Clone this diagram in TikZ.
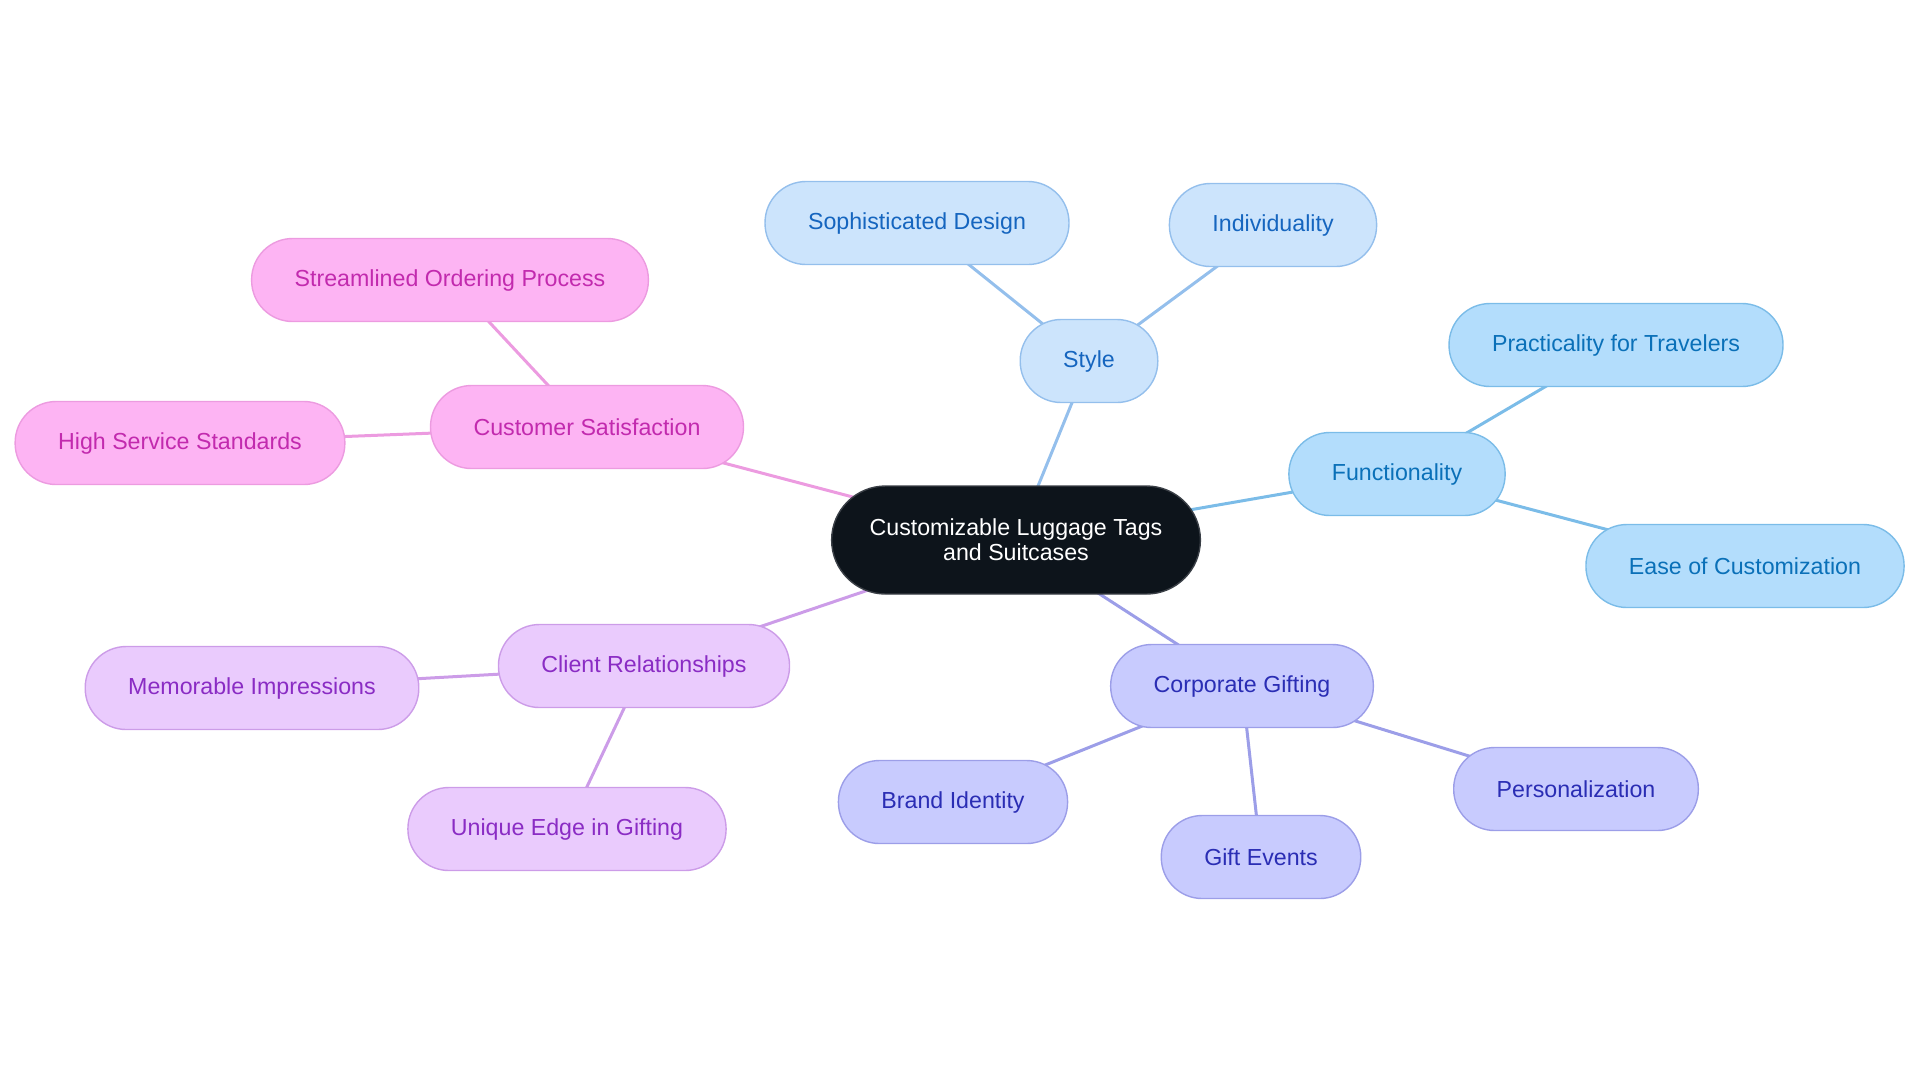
\documentclass[tikz,border=0pt]{standalone}
\usepackage{fontspec}
\setmainfont{Liberation Sans}
\usetikzlibrary{backgrounds}
\definecolor{RootFill}{HTML}{0D141B}
\definecolor{RootLine}{HTML}{3A3F46}
\definecolor{StyleFill}{HTML}{CCE4FC}
\definecolor{StyleLine}{HTML}{94BFEC}
\definecolor{StyleText}{HTML}{1565BF}
\definecolor{FuncFill}{HTML}{B3DDFC}
\definecolor{FuncLine}{HTML}{7BBCE8}
\definecolor{FuncText}{HTML}{0A70B8}
\definecolor{GiftFill}{HTML}{C8CBFE}
\definecolor{GiftLine}{HTML}{9C9EE8}
\definecolor{GiftText}{HTML}{2A2DB4}
\definecolor{ClientFill}{HTML}{EACBFD}
\definecolor{ClientLine}{HTML}{CC9CE8}
\definecolor{ClientText}{HTML}{8A2CC4}
\definecolor{SatisFill}{HTML}{FDB4F3}
\definecolor{SatisLine}{HTML}{EC9BE0}
\definecolor{SatisText}{HTML}{C22AAE}
\tikzset{
    % Node styles - pill shaped
    rootbox/.style={
        rectangle,
        rounded corners=27pt,
        draw=RootLine,
        fill=RootFill,
        line width=0.7pt,
        minimum height=54pt,
        inner xsep=19pt,
        align=center,
        text=white,
        font=\fontsize{11.6}{12.5}\selectfont
    },
    pill/.style={
        rectangle,
        rounded corners=20.5pt,
        line width=0.7pt,
        minimum height=41.5pt,
        inner xsep=21.5pt,
        font=\fontsize{11.6}{14}\selectfont
    },
    stylebox/.style={pill, draw=StyleLine, fill=StyleFill, text=StyleText},
    funcbox/.style={pill, draw=FuncLine, fill=FuncFill, text=FuncText},
    giftbox/.style={pill, draw=GiftLine, fill=GiftFill, text=GiftText},
    clientbox/.style={pill, draw=ClientLine, fill=ClientFill, text=ClientText},
    satisbox/.style={pill, draw=SatisLine, fill=SatisFill, text=SatisText},
    % Connector style
    link/.style={line width=1.5pt}
}
\begin{document}
\begin{tikzpicture}[x=0.5pt, y=-0.5pt]
                \useasboundingbox (0,0) rectangle (1920,1083);

                % Root
                \node[rootbox] (root) at (1016,540) {Customizable Luggage Tags\\and Suitcases};

                % Style branch
                \node[stylebox] (style) at (1089,361) {Style};
                \node[stylebox] (design) at (917,223) {Sophisticated Design};
                \node[stylebox] (indiv) at (1273,225) {Individuality};

                % Functionality branch
                \node[funcbox] (func) at (1397,474) {Functionality};
                \node[funcbox] (travel) at (1616,345) {Practicality for Travelers};
                \node[funcbox] (ease) at (1745,566) {Ease of Customization};

                % Corporate gifting branch
                \node[giftbox] (corp) at (1242,686) {Corporate Gifting};
                \node[giftbox] (brand) at (953,802) {Brand Identity};
                \node[giftbox] (events) at (1261,857) {Gift Events};
                \node[giftbox] (person) at (1576,789) {Personalization};

                % Client branch
                \node[clientbox] (client) at (644,666) {Client Relationships};
                \node[clientbox] (memo) at (252,688) {Memorable Impressions};
                \node[clientbox] (edge) at (567,829) {Unique Edge in Gifting};

                % Satisfaction branch
                \node[satisbox] (satis) at (587,427) {Customer Satisfaction};
                \node[satisbox] (order) at (450,280) {Streamlined Ordering Process};
                \node[satisbox] (service) at (180,443) {High Service Standards};

                % Connectors
                \begin{scope}[on background layer]
                    \draw[link, StyleLine] (root.center) -- (style.center);
                    \draw[link, StyleLine] (style.center) -- (design.center);
                    \draw[link, StyleLine] (style.center) -- (indiv.center);
                    \draw[link, FuncLine] (root.center) -- (func.center);
                    \draw[link, FuncLine] (func.center) -- (travel.center);
                    \draw[link, FuncLine] (func.center) -- (ease.center);
                    \draw[link, GiftLine] (root.center) -- (corp.center);
                    \draw[link, GiftLine] (corp.center) -- (brand.center);
                    \draw[link, GiftLine] (corp.center) -- (events.center);
                    \draw[link, GiftLine] (corp.center) -- (person.center);
                    \draw[link, ClientLine] (root.center) -- (client.center);
                    \draw[link, ClientLine] (client.center) -- (memo.center);
                    \draw[link, ClientLine] (client.center) -- (edge.center);
                    \draw[link, SatisLine] (root.center) -- (satis.center);
                    \draw[link, SatisLine] (satis.center) -- (order.center);
                    \draw[link, SatisLine] (satis.center) -- (service.center);
                \end{scope}
            \end{tikzpicture}
\end{document}
